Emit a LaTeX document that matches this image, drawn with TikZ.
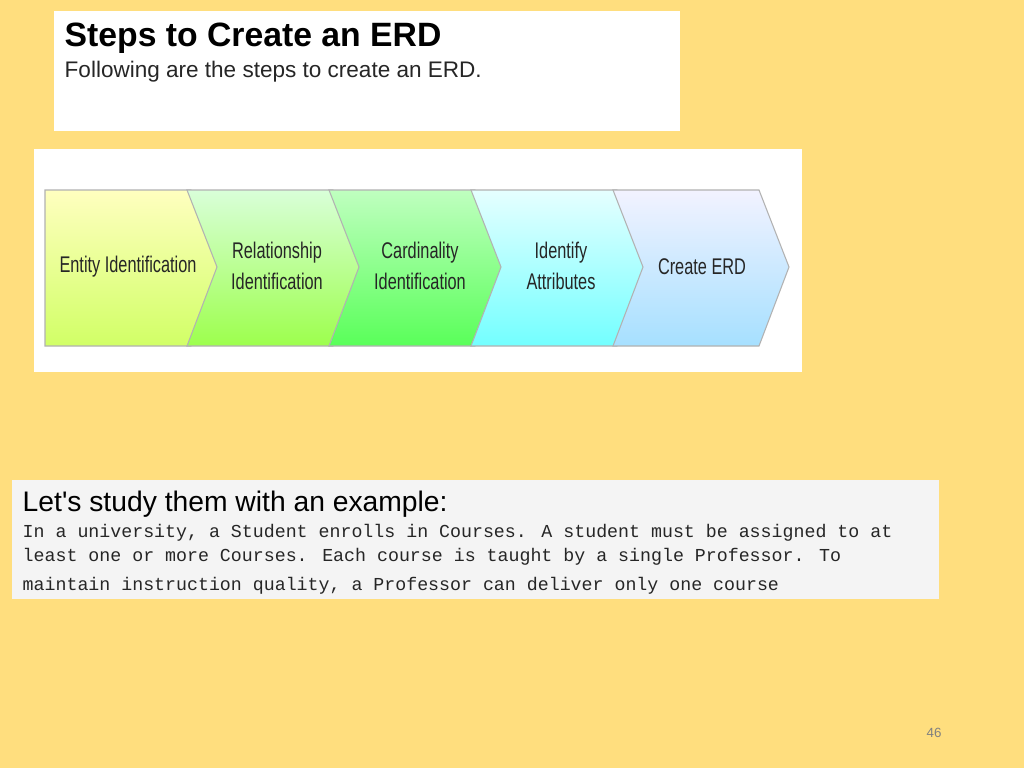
\documentclass[tikz,border=0pt]{standalone}
\usepackage{fontspec}
\setmainfont{Liberation Sans}
\newfontfamily\monof{Liberation Mono}
\newfontfamily\plainsans[Ligatures=NoCommon,Mapping=]{Liberation Sans}
\definecolor{bg}{HTML}{FFDE7E}
\definecolor{exbox}{HTML}{F4F4F4}
\begin{document}
\begin{tikzpicture}[x=0.75pt,y=-0.75pt,
  chev/.style={draw=gray!60,line width=0.8pt},
  clab/.style={align=center,font=\fontsize{17}{21}\selectfont,text=black!85},
  mono/.style={anchor=west,font=\monof\fontsize{13.7}{15}\selectfont,text=black!85}]
\fill[bg] (0,0) rectangle (1024,768);
\useasboundingbox (0,0) rectangle (1024,768);
\fill[white] (54,11) rectangle (680,131);
\node[anchor=west,font=\bfseries\fontsize{25.3}{28}\selectfont] (title) at (60,38) {Steps to Create an ERD};
\node[anchor=west,font=\fontsize{16.9}{19}\selectfont,text=black!85] (sub) at (60,72) {Following are the steps to create an ERD.};
\fill[white] (34,149) rectangle (802,372);
\foreach \i/\ca/\cb in {0/yellow!25/yellow!70!green!60,1/green!15!white/green!55!yellow!70,2/green!25!white/green!65,3/cyan!10!white/cyan!55,4/blue!5!white/blue!35!cyan!35}{
  \pgfmathsetmacro{\xo}{45+142*\i}
  \ifnum\i=0
    \shade[top color=\ca,bottom color=\cb,chev] (\xo,190) -- (\xo+146,190) -- (\xo+176,267) -- (\xo+146,346) -- (\xo,346) -- cycle;
  \else
    \shade[top color=\ca,bottom color=\cb,chev] (\xo,190) -- (\xo+146,190) -- (\xo+176,267) -- (\xo+146,346) -- (\xo,346) -- (\xo+30,267) -- cycle;
  \fi
}
\node[clab] (c1) at (128,267) {\scalebox{0.72}[1]{Entity Identification}};
\node[clab] (c2) at (277,266) {\scalebox{0.72}[1]{Relationship}\\[2pt]\scalebox{0.72}[1]{Identification}};
\node[clab] (c3) at (420,266) {\scalebox{0.72}[1]{Cardinality}\\[2pt]\scalebox{0.72}[1]{Identification}};
\node[clab] (c4) at (561,266) {\scalebox{0.72}[1]{Identify}\\[2pt]\scalebox{0.72}[1]{Attributes}};
\node[clab] (c5) at (702,267) {\scalebox{0.72}[1]{Create ERD}};
\fill[exbox] (12,480) rectangle (939,599);
\node[anchor=west,font=\plainsans\fontsize{21.2}{24}\selectfont] (ex) at (18,504) {Let's study them with an example:};
\node[mono] (l1) at (18,533) {In a university, a Student enrolls in Courses. A student must be assigned to at};
\node[mono] (l2) at (18,557) {least one or more Courses. Each course is taught by a single Professor. To};
\node[mono] (l3) at (18,586) {maintain instruction quality, a Professor can deliver only one course};
\node[font=\fontsize{10}{12}\selectfont,text=gray] (pg) at (934,733) {46};
\end{tikzpicture}
\end{document}
